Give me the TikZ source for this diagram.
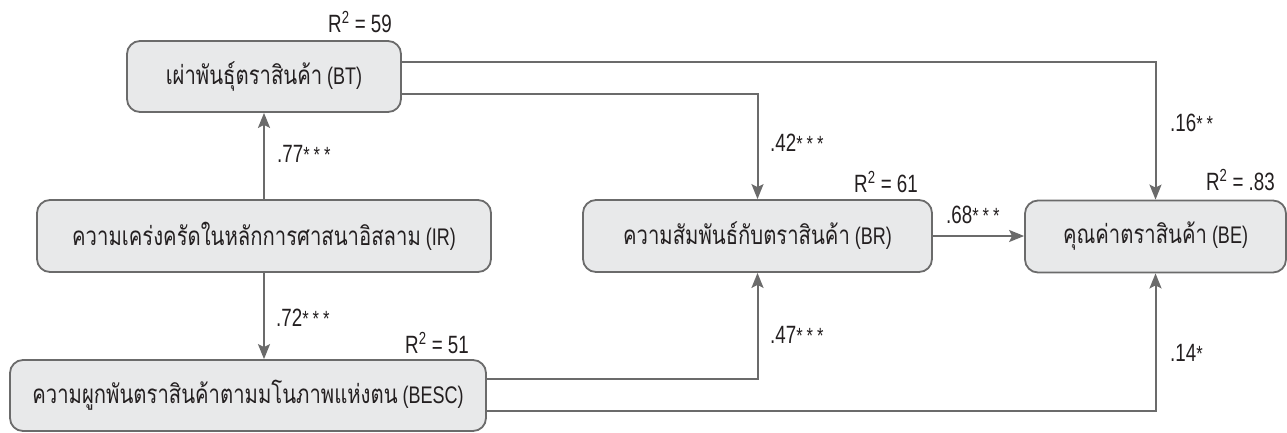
\documentclass[tikz,border=0pt]{standalone}
\usepackage{fontspec}
\setmainfont{Liberation Sans}[FakeStretch=0.75]
\newfontfamily\thaifont[Script=Thai,FakeStretch=0.78]{Loma}
\usetikzlibrary{arrows.meta}
\definecolor{boxfill}{HTML}{E8E9EA}
\definecolor{linegray}{HTML}{6B6B6B}
\definecolor{txt}{HTML}{231F20}
\newcommand{\onestar}{{\fontsize{22}{24}\selectfont *}}
\newcommand{\stars}[1]{\ifcase#1\or\onestar\or\onestar\kern4pt\onestar\or\onestar\kern4pt\onestar\kern4pt\onestar\fi}
\newcommand{\rsq}[1]{R\textsuperscript{2} = #1}
\newcommand{\thtxt}[1]{{\thaifont\fontsize{26}{28}\selectfont #1}}
\begin{document}
\begin{tikzpicture}[x=1pt,y=-1pt,
  box/.style={draw=linegray, fill=boxfill, line width=1.8pt, rounded corners=13pt,
    inner sep=0pt, text=txt, font=\fontsize{24}{28}\selectfont, minimum height=71pt},
  conn/.style={draw=linegray, line width=2pt},
  arr/.style={conn, -{Stealth[length=15pt,width=12pt,inset=3pt]}},
  lbl/.style={text=txt, font=\fontsize{25}{30}\selectfont, inner sep=0pt}
]
\useasboundingbox (0,0) rectangle (1287,432);
% boxes
\node[box, minimum width=274pt] (BT) at (264,76.5) {\thtxt{เผ่าพันธุ์ตราสินค้า} (BT)};
\node[box, minimum width=454pt, minimum height=72pt] (IR) at (264,236) {\thtxt{ความเคร่งครัดในหลักการศาสนาอิสลาม} (IR)};
\node[box, minimum width=476pt] (BESC) at (248,395.5) {\thtxt{ความผูกพันตราสินค้าตามมโนภาพแห่งตน} (BESC)};
\node[box, minimum width=349pt, minimum height=72pt] (BR) at (757.5,236) {\thtxt{ความสัมพันธ์กับตราสินค้า} (BR)};
\node[box, minimum width=261pt, minimum height=72pt] (BE) at (1155.5,236.5) {\thtxt{คุณค่าตราสินค้า} (BE)};
% connectors
\draw[arr] (IR.north) -- (BT.south);
\draw[arr] (IR.south) -- (IR.south |- BESC.north);
\draw[arr] ([yshift=-17.5pt]BT.east) -| (BR.north);
\draw[arr] ([yshift=14.5pt]BT.east) -| (BE.north);
\draw[arr] (BR.east) -- (BE.west |- BR.east);
\draw[arr] ([yshift=16.5pt]BESC.east) -| (BR.south);
\draw[arr] ([yshift=-15.5pt]BESC.east) -| (BE.south);
% coefficient labels
\node[lbl, anchor=west] (l77) at (277,154) {.77\stars3};
\node[lbl, anchor=west] (l72) at (276,318) {.72\stars3};
\node[lbl, anchor=west] (l42) at (770,143) {.42\stars3};
\node[lbl, anchor=west] (l47) at (770,335) {.47\stars3};
\node[lbl, anchor=west] (l16) at (1170,123) {.16\stars2};
\node[lbl, anchor=west] (l14) at (1170,353) {.14\stars1};
\node[lbl, anchor=west] (l68) at (946,215) {.68\stars3};
% R squared
\node[lbl, anchor=east] (r59) at (392,22) {\rsq{59}};
\node[lbl, anchor=east] (r51) at (469,343) {\rsq{51}};
\node[lbl, anchor=east] (r61) at (918,182) {\rsq{61}};
\node[lbl, anchor=east] (r83) at (1275,180) {\rsq{.83}};
\end{tikzpicture}
\end{document}
